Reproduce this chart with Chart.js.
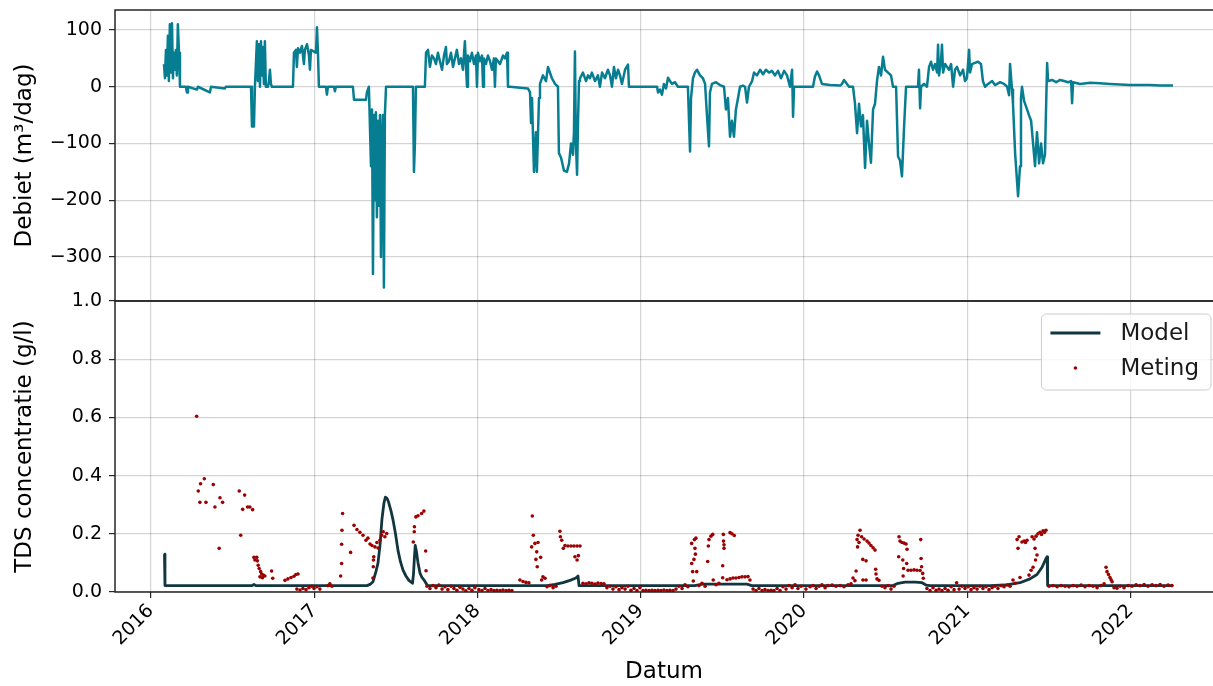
<!DOCTYPE html>
<html lang="nl">
<head>
<meta charset="utf-8">
<title>Debiet en TDS concentratie</title>
<script src="https://cdn.jsdelivr.net/npm/chart.js@4.4.1/dist/chart.umd.min.js"></script>
<style>
  html, body { margin: 0; padding: 0; background: #ffffff; overflow: hidden; }
  #wrap { width: 1213px; height: 686px; }
</style>
</head>
<body>
<div id="wrap"><canvas id="tdsChart" width="1213" height="686"></canvas></div>
<script>
// jaartallen op de x-as en de vaste ticks van beide panelen
const jaren = [2016, 2017, 2018, 2019, 2020, 2021, 2022];
const debietTicks = [-300, -200, -100, 0, 100];
const tdsTicks = [0, 0.2, 0.4, 0.6, 0.8, 1.0];

// debiet (m3/dag), datum als decimaal jaar
const debietJaar = [
  2016.080, 2016.086, 2016.092, 2016.098, 2016.104, 2016.110, 2016.116, 2016.123, 2016.129, 2016.135,
  2016.141, 2016.147, 2016.153, 2016.159, 2016.165, 2016.172, 2016.178, 2016.214, 2016.221, 2016.227,
  2016.282, 2016.288, 2016.361, 2016.368, 2016.453, 2016.459, 2016.613, 2016.619, 2016.631, 2016.637,
  2016.649, 2016.655, 2016.662, 2016.668, 2016.674, 2016.680, 2016.686, 2016.692, 2016.698, 2016.704,
  2016.717, 2016.723, 2016.729, 2016.735, 2016.741, 2016.870, 2016.876, 2016.888, 2016.894, 2016.901,
  2016.913, 2016.925, 2016.937, 2016.943, 2016.956, 2016.968, 2016.974, 2016.980, 2016.999, 2017.011,
  2017.017, 2017.023, 2017.029, 2017.072, 2017.078, 2017.084, 2017.121, 2017.127, 2017.133, 2017.237,
  2017.244, 2017.317, 2017.323, 2017.329, 2017.335, 2017.348, 2017.354, 2017.360, 2017.366, 2017.372,
  2017.378, 2017.384, 2017.391, 2017.397, 2017.403, 2017.409, 2017.415, 2017.421, 2017.427, 2017.433,
  2017.440, 2017.605, 2017.611, 2017.617, 2017.623, 2017.678, 2017.685, 2017.697, 2017.709, 2017.721,
  2017.734, 2017.746, 2017.758, 2017.770, 2017.783, 2017.795, 2017.807, 2017.813, 2017.825, 2017.838,
  2017.850, 2017.862, 2017.874, 2017.887, 2017.899, 2017.911, 2017.923, 2017.930, 2017.936, 2017.942,
  2017.954, 2017.966, 2017.979, 2017.991, 2017.997, 2018.003, 2018.015, 2018.028, 2018.034, 2018.040,
  2018.052, 2018.064, 2018.077, 2018.089, 2018.101, 2018.107, 2018.113, 2018.126, 2018.138, 2018.156,
  2018.168, 2018.181, 2018.187, 2018.199, 2018.309, 2018.322, 2018.328, 2018.334, 2018.346, 2018.358,
  2018.364, 2018.377, 2018.383, 2018.401, 2018.420, 2018.432, 2018.444, 2018.456, 2018.475, 2018.493,
  2018.499, 2018.512, 2018.530, 2018.548, 2018.561, 2018.573, 2018.585, 2018.591, 2018.597, 2018.603,
  2018.610, 2018.616, 2018.622, 2018.628, 2018.646, 2018.665, 2018.677, 2018.689, 2018.701, 2018.720,
  2018.738, 2018.750, 2018.763, 2018.781, 2018.799, 2018.812, 2018.824, 2018.836, 2018.848, 2018.861,
  2018.873, 2018.885, 2018.904, 2018.922, 2018.928, 2019.100, 2019.106, 2019.118, 2019.130, 2019.142,
  2019.155, 2019.167, 2019.179, 2019.191, 2019.210, 2019.228, 2019.289, 2019.302, 2019.308, 2019.320,
  2019.332, 2019.345, 2019.363, 2019.381, 2019.394, 2019.406, 2019.418, 2019.424, 2019.436, 2019.461,
  2019.485, 2019.510, 2019.522, 2019.534, 2019.547, 2019.559, 2019.571, 2019.583, 2019.596, 2019.608,
  2019.626, 2019.639, 2019.651, 2019.663, 2019.682, 2019.694, 2019.712, 2019.731, 2019.749, 2019.767,
  2019.786, 2019.804, 2019.822, 2019.841, 2019.859, 2019.878, 2019.896, 2019.914, 2019.927, 2019.933,
  2019.939, 2020.055, 2020.067, 2020.080, 2020.092, 2020.110, 2020.159, 2020.221, 2020.233, 2020.245,
  2020.263, 2020.276, 2020.300, 2020.312, 2020.325, 2020.337, 2020.349, 2020.361, 2020.374, 2020.386,
  2020.398, 2020.410, 2020.423, 2020.435, 2020.447, 2020.459, 2020.472, 2020.484, 2020.496, 2020.515,
  2020.533, 2020.545, 2020.564, 2020.576, 2020.588, 2020.600, 2020.613, 2020.625, 2020.698, 2020.704,
  2020.711, 2020.717, 2020.735, 2020.753, 2020.766, 2020.778, 2020.790, 2020.803, 2020.815, 2020.821,
  2020.827, 2020.839, 2020.845, 2020.852, 2020.864, 2020.876, 2020.888, 2020.901, 2020.913, 2020.925,
  2020.937, 2020.956, 2020.974, 2020.986, 2020.998, 2021.011, 2021.017, 2021.029, 2021.047, 2021.066,
  2021.084, 2021.096, 2021.109, 2021.127, 2021.152, 2021.170, 2021.201, 2021.225, 2021.244, 2021.256,
  2021.262, 2021.274, 2021.280, 2021.293, 2021.311, 2021.323, 2021.329, 2021.335, 2021.348, 2021.366,
  2021.378, 2021.391, 2021.403, 2021.415, 2021.427, 2021.440, 2021.452, 2021.464, 2021.476, 2021.489,
  2021.495, 2021.519, 2021.544, 2021.568, 2021.593, 2021.617, 2021.636, 2021.642, 2021.648, 2021.691,
  2021.752, 2021.813, 2021.874, 2021.936, 2021.997, 2022.058, 2022.119, 2022.181, 2022.260
];
const debietWaarde = [
  40, 15, 65, 20, 90, 10, 110, 25, 112, 15,
  60, 30, 65, 20, 110, 60, 0, 0, -10, 0,
  -5, 0, -10, 0, -3, 0, 0, -70, -70, 0,
  80, 10, 75, 0, 80, 20, 70, 5, 80, 0,
  0, 10, 30, 5, 0, 0, 60, 65, 35, 68,
  60, 72, 40, 65, 75, 55, 30, 65, 62, 60,
  105, 60, 0, 0, -14, 0, 0, -8, 0, 0,
  -23, -23, -10, -5, 0, -140, -40, -330, -50, -200,
  -45, -230, -60, -210, -50, -300, -100, -50, -354, -50,
  0, 0, -150, -100, 0, 0, 60, 65, 35, 55,
  50, 40, 60, 45, 30, 55, 70, 40, 45, 60,
  35, 50, 65, 40, 50, 30, 80, 35, 0, 55,
  45, 60, 40, 55, 0, 60, 45, 55, 0, 50,
  40, 55, 45, 30, 50, 0, 50, 45, 40, 55,
  50, 60, 0, 0, -3, -10, -64, -20, -150, -80,
  -150, -20, 5, 20, 10, 35, 25, 15, 5, 0,
  -117, -125, -148, -150, -135, -100, -120, -80, 62, -100,
  -155, -60, 10, 15, 25, 10, 20, 15, 25, 10,
  20, 0, 25, 15, 30, 20, 0, 35, 15, 30,
  20, 5, 30, 39, 0, 0, -10, -5, -14, 5,
  -3, 16, 10, 5, 8, 0, 0, -114, -20, 15,
  25, 30, 20, 15, 5, -52, -105, -10, 5, 8,
  3, 0, -40, -20, -88, -60, -88, -40, -20, 0,
  2, 0, -28, 0, 10, 25, 20, 30, 22, 30,
  25, 28, 20, 28, 15, 28, 20, 0, 30, -53,
  0, 0, 18, 27, 20, 5, 3, 2, 5, 12,
  5, 0, 0, -29, -82, -30, -70, -50, -143, -60,
  -100, -134, -40, -30, 10, 35, 20, 53, 30, 25,
  20, 0, 0, -123, -130, -158, -70, 0, 0, 30,
  -38, 0, 5, 0, 35, 44, 30, 40, 25, 74,
  20, 45, 74, 25, 40, 35, 30, 40, 0, 30,
  35, 20, 30, 10, 15, 65, 25, 40, 42, 44,
  40, 10, 0, 5, 10, 3, 8, 5, 0, -15,
  40, -5, -30, -117, -193, -140, -20, 0, -25, -40,
  -50, -60, -100, -140, -80, -135, -100, -135, -120, 42,
  10, 12, 8, 12, 10, 8, 10, -29, 8, 5,
  7, 6, 5, 4, 3, 3, 3, 2, 2
];

// gemodelleerde TDS concentratie (g/l)
const modelJaar = [
  2016.083, 2016.086, 2016.619, 2016.631, 2016.643, 2017.323, 2017.342, 2017.360, 2017.378, 2017.391,
  2017.403, 2017.415, 2017.427, 2017.436, 2017.446, 2017.455, 2017.470, 2017.483, 2017.498, 2017.513,
  2017.528, 2017.544, 2017.562, 2017.580, 2017.602, 2017.608, 2017.614, 2017.619, 2017.626, 2017.636,
  2017.648, 2017.660, 2017.672, 2017.685, 2017.694, 2018.426, 2018.475, 2018.524, 2018.567, 2018.603,
  2018.616, 2018.622, 2019.330, 2019.380, 2019.650, 2019.680, 2020.545, 2020.576, 2020.619, 2020.680,
  2020.723, 2020.747, 2020.772, 2021.139, 2021.231, 2021.323, 2021.384, 2021.427, 2021.458, 2021.482,
  2021.489, 2021.492, 2022.260
];
const modelTds = [
  0.130, 0.022, 0.022, 0.026, 0.022, 0.022, 0.026, 0.035, 0.070, 0.100,
  0.160, 0.250, 0.305, 0.326, 0.322, 0.310, 0.280, 0.247, 0.200, 0.144,
  0.105, 0.075, 0.055, 0.040, 0.030, 0.060, 0.120, 0.160, 0.140, 0.100,
  0.065, 0.050, 0.042, 0.030, 0.022, 0.022, 0.026, 0.032, 0.040, 0.048,
  0.055, 0.022, 0.022, 0.027, 0.027, 0.022, 0.022, 0.030, 0.034, 0.034,
  0.032, 0.024, 0.022, 0.022, 0.024, 0.032, 0.045, 0.060, 0.085, 0.115,
  0.121, 0.022, 0.022
];

// gemeten TDS concentratie (g/l)
const metingJaar = [
  2016.280, 2016.290, 2016.300, 2016.304, 2016.327, 2016.337, 2016.382, 2016.392, 2016.418, 2016.423,
  2016.439, 2016.541, 2016.550, 2016.562, 2016.574, 2016.592, 2016.606, 2016.623, 2016.631, 2016.637,
  2016.648, 2016.652, 2016.657, 2016.663, 2016.668, 2016.672, 2016.678, 2016.683, 2016.688, 2016.698,
  2016.739, 2016.746, 2016.821, 2016.839, 2016.858, 2016.876, 2016.888, 2016.901, 2016.894, 2016.913,
  2016.931, 2016.950, 2016.968, 2016.986, 2016.999, 2017.017, 2017.035, 2017.084, 2017.096, 2017.109,
  2017.162, 2017.168, 2017.168, 2017.170, 2017.174, 2017.223, 2017.244, 2017.262, 2017.280, 2017.299,
  2017.317, 2017.329, 2017.342, 2017.354, 2017.360, 2017.362, 2017.363, 2017.365, 2017.372, 2017.384,
  2017.391, 2017.403, 2017.413, 2017.423, 2017.433, 2017.444, 2017.607, 2017.613, 2017.614, 2017.623,
  2017.636, 2017.658, 2017.672, 2017.683, 2017.685, 2017.691, 2017.709, 2017.728, 2017.746, 2017.764,
  2017.783, 2017.801, 2017.819, 2017.838, 2017.856, 2017.874, 2017.893, 2017.911, 2017.929, 2017.948,
  2017.966, 2017.984, 2018.009, 2018.028, 2018.046, 2018.064, 2018.083, 2018.101, 2018.119, 2018.138,
  2018.156, 2018.175, 2018.193, 2018.211, 2018.260, 2018.279, 2018.297, 2018.315, 2018.332, 2018.336,
  2018.342, 2018.352, 2018.358, 2018.363, 2018.366, 2018.371, 2018.387, 2018.393, 2018.401, 2018.414,
  2018.426, 2018.444, 2018.463, 2018.481, 2018.505, 2018.508, 2018.516, 2018.526, 2018.536, 2018.554,
  2018.573, 2018.591, 2018.610, 2018.628, 2018.597, 2018.610, 2018.618, 2018.646, 2018.665, 2018.683,
  2018.701, 2018.720, 2018.738, 2018.757, 2018.775, 2018.793, 2018.812, 2018.830, 2018.848, 2018.867,
  2018.885, 2018.904, 2018.922, 2018.940, 2018.959, 2018.977, 2018.995, 2019.014, 2019.032, 2019.051,
  2019.069, 2019.087, 2019.106, 2019.124, 2019.142, 2019.161, 2019.179, 2019.198, 2019.216, 2019.234,
  2019.253, 2019.271, 2019.289, 2019.312, 2019.312, 2019.318, 2019.322, 2019.326, 2019.329, 2019.332,
  2019.335, 2019.338, 2019.343, 2019.357, 2019.375, 2019.394, 2019.410, 2019.414, 2019.418, 2019.430,
  2019.441, 2019.444, 2019.461, 2019.479, 2019.502, 2019.502, 2019.506, 2019.507, 2019.510, 2019.510,
  2019.528, 2019.547, 2019.559, 2019.573, 2019.547, 2019.565, 2019.583, 2019.602, 2019.620, 2019.639,
  2019.657, 2019.669, 2019.688, 2019.706, 2019.724, 2019.743, 2019.761, 2019.780, 2019.798, 2019.816,
  2019.835, 2019.853, 2019.871, 2019.890, 2019.908, 2019.927, 2019.945, 2019.963, 2019.982, 2020.012,
  2020.037, 2020.055, 2020.074, 2020.092, 2020.110, 2020.129, 2020.147, 2020.172, 2020.196, 2020.221,
  2020.245, 2020.270, 2020.288, 2020.300, 2020.312, 2020.319, 2020.325, 2020.328, 2020.331, 2020.337,
  2020.343, 2020.353, 2020.360, 2020.361, 2020.368, 2020.380, 2020.380, 2020.386, 2020.398, 2020.410,
  2020.423, 2020.435, 2020.439, 2020.441, 2020.447, 2020.459, 2020.478, 2020.496, 2020.515, 2020.533,
  2020.551, 2020.580, 2020.582, 2020.588, 2020.600, 2020.605, 2020.607, 2020.610, 2020.613, 2020.625,
  2020.629, 2020.631, 2020.637, 2020.655, 2020.674, 2020.692, 2020.711, 2020.715, 2020.717, 2020.720,
  2020.727, 2020.731, 2020.753, 2020.772, 2020.790, 2020.809, 2020.827, 2020.845, 2020.864, 2020.882,
  2020.901, 2020.919, 2020.935, 2020.950, 2020.968, 2020.986, 2021.005, 2021.023, 2021.041, 2021.060,
  2021.078, 2021.096, 2021.115, 2021.133, 2021.152, 2021.170, 2021.188, 2021.207, 2021.225, 2021.244,
  2021.262, 2021.280, 2021.293, 2021.305, 2021.311, 2021.317, 2021.323, 2021.335, 2021.348, 2021.357,
  2021.366, 2021.378, 2021.391, 2021.397, 2021.403, 2021.409, 2021.415, 2021.418, 2021.421, 2021.427,
  2021.433, 2021.446, 2021.455, 2021.464, 2021.473, 2021.482, 2021.501, 2021.525, 2021.550, 2021.574,
  2021.599, 2021.623, 2021.648, 2021.672, 2021.697, 2021.721, 2021.746, 2021.770, 2021.795, 2021.819,
  2021.838, 2021.850, 2021.856, 2021.865, 2021.874, 2021.881, 2021.887, 2021.899, 2021.917, 2021.936,
  2021.960, 2021.985, 2022.009, 2022.034, 2022.058, 2022.083, 2022.107, 2022.132, 2022.156, 2022.181,
  2022.205, 2022.230, 2022.254
];
const metingTds = [
  0.604, 0.347, 0.308, 0.372, 0.389, 0.308, 0.369, 0.292, 0.150, 0.324,
  0.308, 0.347, 0.195, 0.284, 0.333, 0.292, 0.292, 0.283, 0.119, 0.110,
  0.119, 0.107, 0.092, 0.081, 0.052, 0.070, 0.062, 0.049, 0.058, 0.055,
  0.072, 0.047, 0.040, 0.045, 0.050, 0.054, 0.060, 0.062, 0.010, 0.007,
  0.012, 0.008, 0.015, 0.020, 0.012, 0.018, 0.010, 0.022, 0.028, 0.020,
  0.055, 0.098, 0.164, 0.212, 0.270, 0.136, 0.229, 0.215, 0.205, 0.195,
  0.178, 0.185, 0.165, 0.160, 0.048, 0.087, 0.110, 0.121, 0.155, 0.170,
  0.151, 0.178, 0.195, 0.207, 0.190, 0.201, 0.172, 0.207, 0.224, 0.258,
  0.262, 0.270, 0.278, 0.141, 0.073, 0.020, 0.012, 0.022, 0.015, 0.024,
  0.010, 0.018, 0.008, 0.020, 0.012, 0.006, 0.016, 0.010, 0.004, 0.012,
  0.006, 0.015, 0.008, 0.005, 0.012, 0.005, 0.008, 0.005, 0.006, 0.005,
  0.007, 0.005, 0.006, 0.005, 0.041, 0.036, 0.033, 0.032, 0.155, 0.261,
  0.195, 0.167, 0.112, 0.138, 0.087, 0.170, 0.119, 0.041, 0.052, 0.047,
  0.018, 0.022, 0.015, 0.020, 0.209, 0.190, 0.178, 0.150, 0.160, 0.158,
  0.158, 0.158, 0.158, 0.158, 0.121, 0.110, 0.125, 0.030, 0.028, 0.032,
  0.030, 0.027, 0.031, 0.029, 0.028, 0.015, 0.020, 0.010, 0.018, 0.008,
  0.015, 0.010, 0.020, 0.006, 0.012, 0.005, 0.015, 0.005, 0.006, 0.005,
  0.006, 0.005, 0.006, 0.005, 0.007, 0.005, 0.006, 0.005, 0.010, 0.020,
  0.012, 0.025, 0.018, 0.098, 0.167, 0.070, 0.038, 0.112, 0.180, 0.150,
  0.130, 0.185, 0.070, 0.022, 0.030, 0.020, 0.105, 0.158, 0.180, 0.192,
  0.198, 0.041, 0.025, 0.030, 0.090, 0.049, 0.198, 0.175, 0.150, 0.162,
  0.042, 0.204, 0.200, 0.194, 0.045, 0.048, 0.048, 0.050, 0.052, 0.052,
  0.053, 0.041, 0.010, 0.005, 0.012, 0.005, 0.008, 0.005, 0.006, 0.005,
  0.012, 0.005, 0.018, 0.010, 0.022, 0.015, 0.025, 0.012, 0.020, 0.010,
  0.018, 0.022, 0.012, 0.020, 0.025, 0.015, 0.022, 0.024, 0.020, 0.022,
  0.018, 0.025, 0.028, 0.048, 0.039, 0.072, 0.180, 0.155, 0.195, 0.170,
  0.212, 0.190, 0.112, 0.041, 0.182, 0.107, 0.041, 0.175, 0.168, 0.160,
  0.152, 0.144, 0.078, 0.062, 0.045, 0.040, 0.020, 0.015, 0.022, 0.010,
  0.020, 0.121, 0.190, 0.175, 0.170, 0.110, 0.055, 0.081, 0.168, 0.165,
  0.098, 0.147, 0.075, 0.075, 0.076, 0.075, 0.074, 0.180, 0.115, 0.087,
  0.064, 0.047, 0.012, 0.005, 0.015, 0.006, 0.010, 0.005, 0.012, 0.006,
  0.018, 0.008, 0.032, 0.010, 0.020, 0.012, 0.018, 0.008, 0.015, 0.010,
  0.020, 0.012, 0.018, 0.008, 0.015, 0.020, 0.012, 0.022, 0.018, 0.024,
  0.020, 0.041, 0.030, 0.180, 0.150, 0.190, 0.050, 0.172, 0.175, 0.170,
  0.178, 0.058, 0.075, 0.190, 0.085, 0.182, 0.150, 0.110, 0.192, 0.127,
  0.200, 0.205, 0.198, 0.210, 0.205, 0.212, 0.020, 0.022, 0.018, 0.022,
  0.020, 0.018, 0.022, 0.020, 0.024, 0.018, 0.022, 0.020, 0.015, 0.022,
  0.028, 0.085, 0.070, 0.060, 0.050, 0.042, 0.035, 0.015, 0.013, 0.020,
  0.015, 0.022, 0.020, 0.025, 0.022, 0.026, 0.020, 0.025, 0.022, 0.026,
  0.020, 0.024, 0.022
];

const kleurDebiet = "#077d91";
const kleurModel = "#12363f";
const kleurMeting = "#9c0000";
const rasterKleur = "rgba(0, 0, 0, 0.17)";
const lijnKleur = "#262626";

Chart.defaults.font.family = "'DejaVu Sans', sans-serif";
Chart.defaults.color = "#000000";

const toPoints = (xs, ys) => xs.map((x, i) => ({ x: x, y: ys[i] }));

// kader om beide panelen (rechterrand valt buiten beeld)
const kaderPlugin = {
  id: "kader",
  afterDatasetsDraw: (chart) => {
    const { ctx, chartArea, scales } = chart;
    ctx.save();
    ctx.strokeStyle = lijnKleur;
    ctx.lineWidth = 1.5;
    [scales.yDebiet, scales.yTds].forEach((s) => {
      ctx.beginPath();
      ctx.moveTo(chartArea.right, s.top);
      ctx.lineTo(chartArea.left, s.top);
      ctx.lineTo(chartArea.left, s.bottom);
      ctx.lineTo(chartArea.right, s.bottom);
      ctx.stroke();
    });
    ctx.restore();
  },
};

// legenda rechtsboven in het onderste paneel
const legendaPlugin = {
  id: "legenda",
  afterDraw: (chart) => {
    const { ctx, chartArea, scales } = chart;
    const model = chart.data.datasets[1];
    const meting = chart.data.datasets[0];
    ctx.save();
    ctx.font = "23px 'DejaVu Sans'";
    const tekstBreedte = Math.max(
      ctx.measureText(model.label).width,
      ctx.measureText(meting.label).width
    );
    const right = chartArea.right - 2;
    const top = scales.yTds.top + 13;
    const w = 9 + 50 + 20 + tekstBreedte + 12;
    const h = 76;
    const left = right - w;

    ctx.fillStyle = "rgba(255, 255, 255, 0.8)";
    ctx.strokeStyle = "#cccccc";
    ctx.lineWidth = 1;
    ctx.beginPath();
    ctx.roundRect(left, top, w, h, 5);
    ctx.fill();
    ctx.stroke();

    const rij1 = top + 19;
    const rij2 = top + 54;
    ctx.strokeStyle = kleurModel;
    ctx.lineWidth = 2.8;
    ctx.beginPath();
    ctx.moveTo(left + 9, rij1);
    ctx.lineTo(left + 59, rij1);
    ctx.stroke();

    ctx.fillStyle = kleurMeting;
    ctx.beginPath();
    ctx.arc(left + 34, rij2, 1.8, 0, Math.PI * 2);
    ctx.fill();

    ctx.fillStyle = "#1a1a1a";
    ctx.textAlign = "left";
    ctx.textBaseline = "middle";
    ctx.fillText(model.label, left + 79, rij1 + 1);
    ctx.fillText(meting.label, left + 79, rij2 + 1);
    ctx.restore();
  },
};

const geenMarge = (scale) => {
  scale.paddingTop = 0;
  scale.paddingBottom = 0;
  scale.paddingLeft = 0;
  scale.paddingRight = 0;
};

function maakGrafiek() {
  const ctx = document.getElementById("tdsChart").getContext("2d");

  return new Chart(ctx, {
    type: "line",
    data: {
      datasets: [
        {
          label: "Meting",
          data: toPoints(metingJaar, metingTds),
          yAxisID: "yTds",
          showLine: false,
          pointRadius: 1.8,
          pointBorderWidth: 0,
          pointBackgroundColor: kleurMeting,
          borderColor: kleurMeting,
          order: 0,
        },
        {
          label: "Model",
          data: toPoints(modelJaar, modelTds),
          yAxisID: "yTds",
          borderColor: kleurModel,
          borderWidth: 2.8,
          borderJoinStyle: "round",
          pointRadius: 0,
          tension: 0,
          order: 1,
        },
        {
          label: "Debiet",
          data: toPoints(debietJaar, debietWaarde),
          yAxisID: "yDebiet",
          borderColor: kleurDebiet,
          borderWidth: 2.5,
          borderJoinStyle: "round",
          pointRadius: 0,
          tension: 0,
          order: 2,
        },
      ],
    },
    options: {
      responsive: false,
      animation: false,
      layout: {
        autoPadding: false,
        padding: { top: 10, right: 0, bottom: 0, left: 0 },
      },
      scales: {
        x: {
          type: "linear",
          min: 2015.78,
          max: 2022.505,
          afterBuildTicks: (axis) => {
            axis.ticks = jaren.map((v) => ({ value: v }));
          },
          afterFit: (scale) => {
            geenMarge(scale);
            scale.height = 94;
          },
          ticks: {
            autoSkip: false,
            minRotation: 45,
            maxRotation: 45,
            padding: 2,
            font: { size: 19 },
            callback: (v) => String(v),
          },
          grid: { color: rasterKleur, lineWidth: 1.2, tickColor: lijnKleur, tickLength: 6 },
          border: { display: false },
          title: {
            display: true,
            text: "Datum",
            font: { size: 23 },
            padding: { top: 0, bottom: 0 },
          },
        },
        yTds: {
          type: "linear",
          position: "left",
          stack: "panelen",
          stackWeight: 1,
          min: 0,
          max: 1,
          afterBuildTicks: (axis) => {
            axis.ticks = tdsTicks.map((v) => ({ value: v }));
          },
          afterFit: (scale) => {
            geenMarge(scale);
            scale.width = 115;
          },
          ticks: {
            padding: 7,
            font: { size: 19 },
            callback: (v) => v.toFixed(1),
          },
          grid: { color: rasterKleur, lineWidth: 1.2, tickColor: lijnKleur, tickLength: 6 },
          border: { display: false },
          title: {
            display: true,
            text: "TDS concentratie (g/l)",
            font: { size: 23 },
            padding: { top: 11, bottom: 0 },
          },
        },
        yDebiet: {
          type: "linear",
          position: "left",
          stack: "panelen",
          stackWeight: 1,
          min: -377.7,
          max: 135.3,
          afterBuildTicks: (axis) => {
            axis.ticks = debietTicks.map((v) => ({ value: v }));
          },
          afterFit: (scale) => {
            geenMarge(scale);
            scale.width = 115;
          },
          ticks: {
            padding: 7,
            font: { size: 19 },
            callback: (v) => (v < 0 ? "\u2212" + Math.abs(v) : String(v)),
          },
          grid: { color: rasterKleur, lineWidth: 1.2, tickColor: lijnKleur, tickLength: 6 },
          border: { display: false },
          title: {
            display: true,
            text: "Debiet (m\u00b3/dag)",
            font: { size: 23 },
            padding: { top: 11, bottom: 0 },
          },
        },
      },
      plugins: {
        legend: { display: false },
        tooltip: { enabled: false },
      },
    },
    plugins: [kaderPlugin, legendaPlugin],
  });
}

document.addEventListener("DOMContentLoaded", () => {
  maakGrafiek();
});
</script>
</body>
</html>
